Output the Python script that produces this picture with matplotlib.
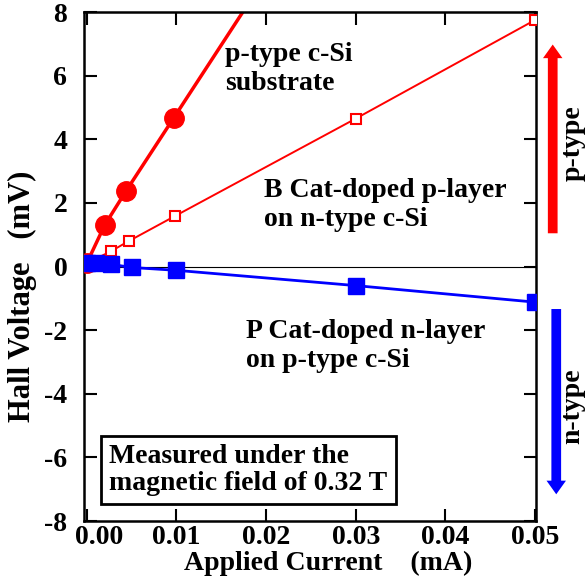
import numpy as np
import matplotlib
matplotlib.use("Agg")
import matplotlib.pyplot as plt
from matplotlib.patches import FancyArrowPatch
from matplotlib.transforms import ScaledTranslation

plt.rcParams['font.family'] = ['Liberation Serif', 'DejaVu Serif']
plt.rcParams['font.weight'] = 'bold'
plt.rcParams['axes.labelweight'] = 'bold'
plt.rcParams['axes.unicode_minus'] = False
plt.rcParams['font.size'] = 20

# Hall voltage (mV) vs applied current (mA)
# p-type c-Si substrate
sub_current = [0.0, 0.002, 0.0044, 0.0097]
sub_voltage = [0.1, 1.3, 2.38, 4.67]

# B Cat-doped p-layer on n-type c-Si
b_current = [0.0, 0.0027, 0.0047, 0.0098, 0.030, 0.050]
b_voltage = [0.1, 0.48, 0.8, 1.58, 4.65, 7.75]

# P Cat-doped n-layer on p-type c-Si
p_current = [0.0, 0.001, 0.0027, 0.005, 0.010, 0.030, 0.050]
p_voltage = [0.12, 0.12, 0.07, -0.03, -0.12, -0.6, -1.12]

xticks = [0.00, 0.01, 0.02, 0.03, 0.04, 0.05]
yticks = [-8, -6, -4, -2, 0, 2, 4, 6, 8]

fig = plt.figure(figsize=(5.88, 5.80), dpi=100)
ax = fig.add_axes([0.1429, 0.1017, 0.7687, 0.8776])

ax.axhline(0, color='black', lw=0.8, zorder=1)

# substrate line keeps going past the last point along the last segment
slope = (sub_voltage[-1] - sub_voltage[-2]) / (sub_current[-1] - sub_current[-2])
ext_x = sub_current + [0.03]
ext_y = sub_voltage + [sub_voltage[-1] + slope * (0.03 - sub_current[-1])]
ax.plot(ext_x, ext_y, color='red', lw=2.5, zorder=2)
ax.plot(sub_current, sub_voltage, 'o', color='red', ms=14, zorder=3)

ax.plot(b_current, b_voltage, '-s', color='red', lw=1.4, ms=7,
        mfc='white', mec='red', mew=1.5, zorder=4)

ax.plot(p_current, p_voltage, '-s', color='blue', lw=2, ms=11, zorder=5)

ax.set_xlim(-0.0003, 0.0501)
ax.set_ylim(-8, 8)
ax.set_xticks(xticks)
ax.set_xticklabels([f"{v:.2f}" for v in xticks])
ax.set_yticks(yticks)
ax.tick_params(direction='in', length=9, width=1.5, top=True, right=True,
               labelsize=20)
ax.tick_params(axis='x', pad=3)
ax.tick_params(axis='y', pad=12)
for s in ax.spines.values():
    s.set_linewidth(1.8)

# nudge the first current label off the corner
lab0 = ax.get_xticklabels()[0]
lab0.set_transform(lab0.get_transform() + ScaledTranslation(0.12, 0, fig.dpi_scale_trans))

ax.set_xlabel("Applied Current    (mA)", fontsize=20)
ax.xaxis.set_label_coords(0.54, -0.058)
ax.set_ylabel("Hall Voltage   (mV)", fontsize=22)
ax.yaxis.set_label_coords(-0.104, 0.442)

ax.text(0.0154, 7.06, "p-type c-Si\nsubstrate", va='top', ha='left')
ax.text(0.0198, 2.78, "B Cat-doped p-layer\non n-type c-Si", va='top', ha='left')
ax.text(0.0178, -1.65, "P Cat-doped n-layer\non p-type c-Si", va='top', ha='left')
ax.text(0.0025, -6.4, "Measured under the\nmagnetic field of 0.32 T", va='center', ha='left',
        linespacing=1.1,
        bbox=dict(boxstyle='square,pad=0.3', fc='white', ec='black', lw=2))

# carrier type arrows on the right
up = FancyArrowPatch((0.940, 0.593), (0.940, 0.928), transform=fig.transFigure,
                     arrowstyle='simple,head_length=1.4,head_width=2,tail_width=1',
                     mutation_scale=7, color='red', lw=0)
down = FancyArrowPatch((0.946, 0.472), (0.946, 0.143), transform=fig.transFigure,
                       arrowstyle='simple,head_length=1.4,head_width=2,tail_width=1',
                       mutation_scale=7, color='blue', lw=0)
fig.patches.extend([up, down])
fig.text(0.975, 0.753, "p-type", rotation=90, ha='center', va='center')
fig.text(0.974, 0.300, "n-type", rotation=90, ha='center', va='center')

fig.savefig("out.png", dpi=100)
